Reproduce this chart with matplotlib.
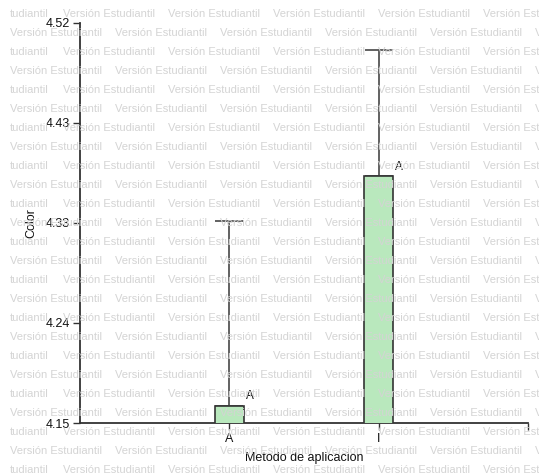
import matplotlib
matplotlib.use("Agg")
import matplotlib.pyplot as plt

plt.rcParams['font.family'] = ['Liberation Sans', 'DejaVu Sans']

# values
categories = ['A', 'I']
means = [4.166, 4.378]
upper_err = [0.171, 0.117]
letters = ['A', 'A']
ytick_labels = ['4.15', '4.24', '4.33', '4.43', '4.52']
ymin, ymax = 4.15, 4.52

W, H = 539, 475
fig = plt.figure(figsize=(W / 100, H / 100), dpi=100)

# "Versión Estudiantil" watermark behind everything
wm_color = '#d4d4d4'
row = 0
y = 14
while y < H + 10:
    if row % 2 == 0:
        fig.text(10 / W, 1 - y / H, 'tudiantil', color=wm_color, fontsize=8,
                 va='center', ha='left', zorder=0)
        x0 = 63
    else:
        x0 = 10
    x = x0
    while x < W:
        fig.text(x / W, 1 - y / H, 'Versión Estudiantil', color=wm_color,
                 fontsize=8, va='center', ha='left', zorder=0)
        x += 105
    y += 19
    row += 1

ax = fig.add_axes([80 / W, (H - 423) / H, (528 - 80) / W, (423 - 22.7) / H])
ax.patch.set_alpha(0)

xpos = [1, 2]
ax.bar(xpos, means, width=0.19, bottom=0, color='#b9e8bd', edgecolor='#333333',
       linewidth=1.2, zorder=3)
ax.errorbar(xpos, means, yerr=[[0, 0], upper_err], fmt='none', ecolor='#555555',
            elinewidth=1.3, capsize=10, capthick=1.3, zorder=2)
for xp, m, lab in zip(xpos, means, letters):
    ax.text(xp + 0.11, m + 0.003, lab, fontsize=8.5, ha='left', va='bottom',
            color='#111111', zorder=4)

ax.set_xlim(0, 3)
ax.set_ylim(ymin, ymax)
ax.set_xticks([1, 2, 3])
ax.set_xticklabels(categories + [''])
ax.set_yticks([ymin + i * (ymax - ymin) / 4 for i in range(5)])
ax.set_yticklabels(ytick_labels)

for side in ['top', 'right']:
    ax.spines[side].set_visible(False)
for side in ['left', 'bottom']:
    ax.spines[side].set_color('#333333')
    ax.spines[side].set_linewidth(1.3)
ax.tick_params(axis='both', colors='#333333', labelcolor='#111111',
               labelsize=9, length=5, width=1, pad=2)

ax.set_xlabel('Metodo de aplicacion', fontsize=9, color='#111111', labelpad=5)
ax.set_ylabel('Color', fontsize=9, color='#111111', labelpad=6)

fig.savefig('out.png', dpi=100)
